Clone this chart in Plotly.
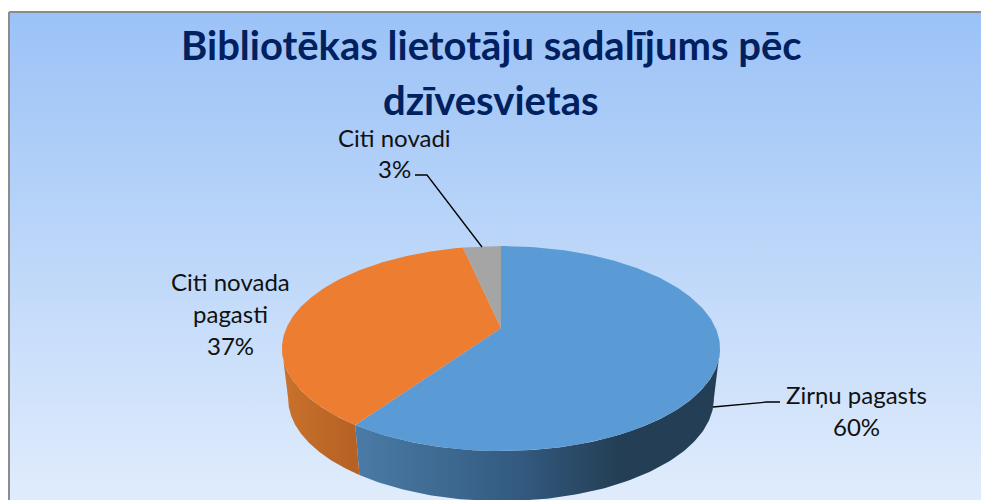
import numpy as np
import plotly.graph_objects as go

# ---- data ----
categories = ["Zirņu pagasts", "Citi novada pagasti", "Citi novadi"]
values = [59.6, 37.0, 3.4]
title_lines = ["Bibliotēkas lietotāju sadalījums pēc", "dzīvesvietas"]
label_lines = [["Zirņu pagasts"], ["Citi novada", "pagasti"], ["Citi novadi"]]

# ---- styles / layout ----
top_colors = ["#5B9BD5", "#EC7D31", "#A5A5A5"]
side_scales = [
    [[0, "#4A7BA6"], [0.45, "#335A80"], [0.72, "#243F55"], [1, "#243F55"]],
    [[0, "#C9722C"], [1, "#B56024"]],
    [[0, "#7C7C7C"], [1, "#7C7C7C"]],
]
CX, CY = 501.0, 328.0
A, B, K = 214.6, 98.4, 0.2
DEPTH, SHRINK = 50.0, 0.972
label_pos = [(856, [394, 426]), (230, [281, 313, 345]), (394, [137, 168])]

# angles at which the rim reaches its left and right extremes
SIL = np.degrees(np.arccos(-K))


def rim(theta_deg):
    t = np.radians(theta_deg)
    u, v = np.sin(t), np.cos(t)
    d = 1 + K * v
    return CX + A * u / d, CY - B * v / d


def side_poly(a, b):
    th = np.linspace(a, b, 120)
    x, y = rim(th)
    xb = CX + SHRINK * (x - CX)
    yb = y + DEPTH
    return np.r_[x, xb[::-1], x[0]], np.r_[y, yb[::-1], y[0]]


fig = go.Figure()
fig.add_trace(go.Scatter(
    x=[9, 990, 990, 9, 9], y=[12, 12, 505, 505, 12], mode="lines", fill="toself",
    line=dict(color="#8C8C8C", width=2),
    fillgradient=dict(type="vertical", start=12, stop=500,
                      colorscale=[[0, "#9BC2F7"], [0.5, "#BDD7F9"], [1, "#E0ECFC"]]),
    hoverinfo="skip", showlegend=False))

bounds = np.r_[0, np.cumsum(values)] / np.sum(values) * 360

# sides first, only the front part of the pie shows them
for i, name in enumerate(categories):
    a, b = max(bounds[i], SIL), min(bounds[i + 1], 360.0 - SIL)
    if a >= b:
        continue
    x, y = side_poly(a, b)
    fig.add_trace(go.Scatter(
        x=x, y=y, mode="lines", fill="toself", line=dict(width=0), name=name,
        fillgradient=dict(type="horizontal", start=float(x.min()), stop=float(x.max()),
                          colorscale=side_scales[i]),
        hoverinfo="skip", showlegend=False))

# top surface
for i, name in enumerate(categories):
    th = np.linspace(bounds[i], bounds[i + 1], 200)
    x, y = rim(th)
    fig.add_trace(go.Scatter(
        x=np.r_[CX, x, CX], y=np.r_[CY, y, CY], mode="lines", fill="toself",
        fillcolor=top_colors[i], line=dict(width=0), name=name,
        hoverinfo="skip", showlegend=False))

annotations = []
for text, yy, in zip(title_lines, [45, 100]):
    annotations.append(dict(x=491, y=yy, xref="x", yref="y", text=text, showarrow=False,
                            font=dict(family="Lato", size=40, color="#002060", weight="bold")))
for i, (px, ys) in enumerate(label_pos):
    lines = label_lines[i] + [f"{round(values[i] / sum(values) * 100)}%"]
    for t, yy in zip(lines, ys):
        annotations.append(dict(x=px, y=yy, xref="x", yref="y", text=t, showarrow=False,
                                font=dict(family="Lato", size=24, color="#111111")))

shapes = [
    dict(type="path", path="M 713 407 L 767 402 L 780 402", xref="x", yref="y",
         line=dict(color="#000000", width=1.3)),
    dict(type="path", path="M 415 175 L 427 175 L 482 247", xref="x", yref="y",
         line=dict(color="#000000", width=1.3)),
]

fig.update_layout(
    width=981, height=500, margin=dict(l=0, r=0, t=0, b=0),
    paper_bgcolor="#FFFFFF", plot_bgcolor="#FFFFFF",
    xaxis=dict(range=[0, 981], visible=False, fixedrange=True),
    yaxis=dict(range=[500, 0], visible=False, fixedrange=True),
    annotations=annotations, shapes=shapes, showlegend=False,
)
fig.write_html("out.html", config=dict(displayModeBar=False),
               post_script="document.body.style.margin='0';document.body.style.overflow='hidden';"
                           "document.body.style.fontVariantLigatures='none';")
